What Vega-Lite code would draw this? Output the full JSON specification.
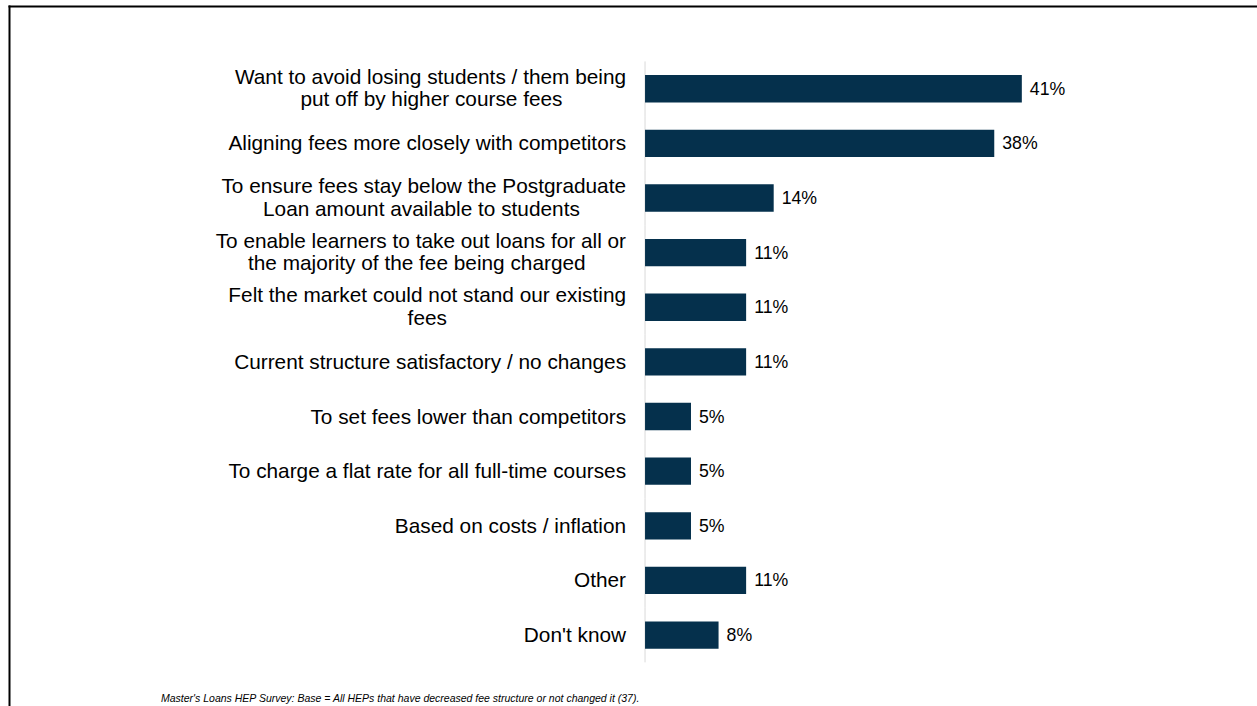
{
  "$schema": "https://vega.github.io/schema/vega-lite/v6.json",
  "width": 1248,
  "height": 700,
  "autosize": {"type": "none"},
  "padding": {"left": 9, "top": 6, "right": 0, "bottom": 0},
  "background": "white",
  "config": {"view": {"stroke": null}, "font": "Liberation Sans"},
  "title": {
    "text": "Master's Loans HEP Survey: Base = All HEPs that have decreased fee structure or not changed it (37).",
    "orient": "bottom", "anchor": "start", "frame": "group", "offset": -12, "dx": 152,
    "fontSize": 10.5, "fontStyle": "italic", "fontWeight": "normal", "color": "#000000", "font": "Liberation Sans"
  },
  "data": {"values": [
    {"reason": "Want to avoid losing students / them being\nput off by higher course fees\u00a0\u00a0\u00a0\u00a0\u00a0\u00a0\u00a0\u00a0\u00a0\u00a0\u00a0\u200b", "pct": 0.41},
    {"reason": "Aligning fees more closely with competitors", "pct": 0.38},
    {"reason": "To ensure fees stay below the Postgraduate\nLoan amount available to students\u00a0\u00a0\u00a0\u00a0\u00a0\u00a0\u00a0\u00a0\u200b", "pct": 0.14},
    {"reason": "To enable learners to take out loans for all or\nthe majority of the fee being charged\u00a0\u00a0\u00a0\u00a0\u00a0\u00a0\u00a0\u200b", "pct": 0.11},
    {"reason": "Felt the market could not stand our existing\nfees\u00a0\u00a0\u00a0\u00a0\u00a0\u00a0\u00a0\u00a0\u00a0\u00a0\u00a0\u00a0\u00a0\u00a0\u00a0\u00a0\u00a0\u00a0\u00a0\u00a0\u00a0\u00a0\u00a0\u00a0\u00a0\u00a0\u00a0\u00a0\u00a0\u00a0\u00a0\u200b", "pct": 0.11},
    {"reason": "Current structure satisfactory / no changes", "pct": 0.11},
    {"reason": "To set fees lower than competitors", "pct": 0.05},
    {"reason": "To charge a flat rate for all full-time courses", "pct": 0.05},
    {"reason": "Based on costs / inflation", "pct": 0.05},
    {"reason": "Other", "pct": 0.11},
    {"reason": "Don't know", "pct": 0.08}
  ]},
  "encoding": {
    "y": {
      "field": "reason", "type": "nominal", "sort": null,
      "scale": {"paddingInner": 0.187, "paddingOuter": 1, "align": 0.554, "round": false},
      "axis": {"orient": "left", "labels": false, "ticks": false, "grid": false, "title": null, "domain": true, "domainColor": "#000000", "domainWidth": 2, "domainCap": "square"}
    }
  },
  "layer": [
    {
      "mark": {"type": "rule", "color": "#d9d9d9", "strokeWidth": 1},
      "encoding": {
        "x": {"datum": 0, "type": "quantitative",
          "scale": {"domain": [-0.6921, 0.6659], "nice": false, "zero": false},
          "axis": {"orient": "top", "labels": false, "ticks": false, "grid": false, "title": null, "domain": true, "domainColor": "#000000", "domainWidth": 2, "domainCap": "square"}},
        "y": {"field": "reason", "type": "nominal", "sort": null, "bandPosition": -0.115},
        "y2": {"field": "reason", "bandPosition": 1.115}
      }
    },
    {
      "mark": {"type": "bar", "color": "#05304C", "height": {"band": 0.615}},
      "encoding": {
        "x": {"field": "pct", "type": "quantitative",
          "axis": {"orient": "top", "labels": false, "ticks": false, "grid": false, "title": null, "domain": true, "domainColor": "#000000", "domainWidth": 2, "domainCap": "square"}}
      }
    },
    {
      "mark": {"type": "text", "align": "left", "baseline": "middle", "dx": 8, "dy": 1, "fontSize": 17.7, "color": "#000000"},
      "encoding": {
        "x": {"field": "pct", "type": "quantitative"},
        "text": {"field": "pct", "type": "quantitative", "format": ".0%"}
      }
    },
    {
      "transform": [{"filter": "indexof(datum.reason, '\\n') < 0"}],
      "mark": {"type": "text", "align": "right", "baseline": "middle", "dx": -19, "dy": 1, "fontSize": 20.8, "color": "#000000"},
      "encoding": {
        "x": {"datum": 0, "type": "quantitative"},
        "text": {"field": "reason", "type": "nominal"}
      }
    },
    {
      "transform": [{"filter": "indexof(datum.reason, '\\n') >= 0"}],
      "mark": {"type": "text", "align": "right", "baseline": "middle", "dx": -19, "dy": -11, "fontSize": 20.8, "lineBreak": "\n", "lineHeight": 22.5, "color": "#000000"},
      "encoding": {
        "x": {"datum": 0, "type": "quantitative"},
        "text": {"field": "reason", "type": "nominal"}
      }
    }
  ]
}
